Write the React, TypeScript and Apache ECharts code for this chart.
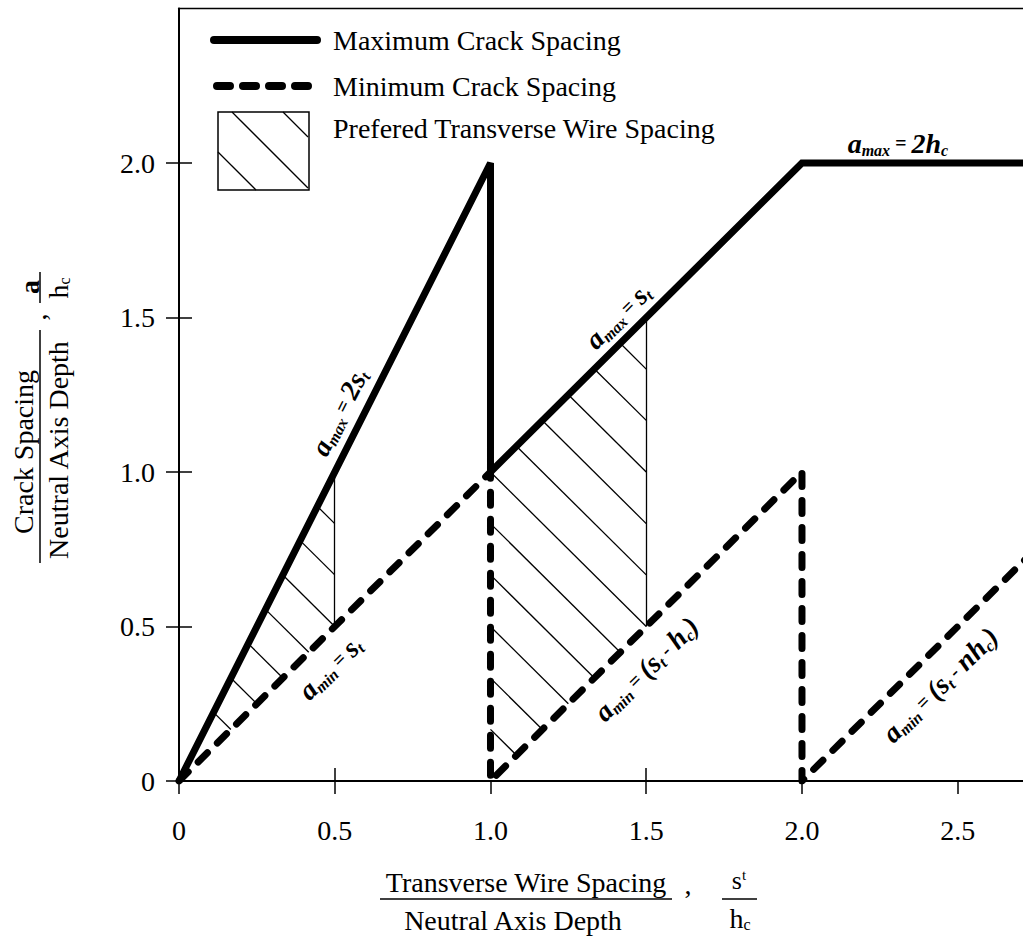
import React, { useEffect, useRef } from 'react';
import * as echarts from 'echarts';

// ---------- data ----------
const xTicks = [0, 0.5, 1.0, 1.5, 2.0, 2.5];
const yTicks = [0, 0.5, 1.0, 1.5, 2.0];
const xInsideTicks = [0.5, 1.5];
const yInsideTicks = [0.5, 1.0, 1.5, 2.0];

const maxCrackSpacing = [[0, 0], [1, 2], [1, 1], [2, 2], [2.75, 2]];
const minCrackSpacing = [[0, 0], [1, 1], [1, 0], [2, 1], [2, 0], [2.75, 0.75]];

// preferred transverse wire spacing zones (polygons, data units)
const zoneA = [[0, 0], [0.5, 0.5], [0.5, 1.0]];
const zoneB = [[1, 0], [1.5, 0.5], [1.5, 1.5], [1, 1]];
// hatch lines x + y = c
const hatchA = [0.333, 0.5, 0.667, 0.833, 1.0, 1.167, 1.333];
const hatchB = [1.167, 1.333, 1.5, 1.667, 1.833, 2.0, 2.167, 2.333, 2.5, 2.667, 2.833];
const zoneEdges = [[[0.5, 0.5], [0.5, 1.0]], [[1.5, 0.5], [1.5, 1.5]]];

const legendNames = ['Maximum Crack Spacing', 'Minimum Crack Spacing', 'Prefered Transverse Wire Spacing'];

const F = 'Liberation Serif';

function clipHatch(poly: number[][], c: number) {
  const pts: number[][] = [];
  for (let i = 0; i < poly.length; i++) {
    const p = poly[i];
    const q = poly[(i + 1) % poly.length];
    const fp = p[0] + p[1] - c;
    const fq = q[0] + q[1] - c;
    if (Math.abs(fp - fq) < 1e-12) continue;
    if ((fp <= 1e-9 && fq >= -1e-9) || (fp >= -1e-9 && fq <= 1e-9)) {
      const t = fp / (fp - fq);
      pts.push([p[0] + t * (q[0] - p[0]), p[1] + t * (q[1] - p[1])]);
    }
  }
  if (pts.length < 2) return null;
  pts.sort((a, b) => a[0] - b[0]);
  const a = pts[0];
  const b = pts[pts.length - 1];
  if (Math.hypot(a[0] - b[0], a[1] - b[1]) < 1e-6) return null;
  return [a, b];
}

const fmt = (v: number) => (v === 0 ? '0' : v.toFixed(1));

const annRich = {
  a: { fontSize: 28, fontFamily: F, fontStyle: 'italic', fontWeight: 'bold', lineHeight: 30, fill: '#000' },
  s: { fontSize: 16, fontFamily: F, fontStyle: 'italic', fontWeight: 'bold', verticalAlign: 'bottom', lineHeight: 18, fill: '#000' },
  e: { fontSize: 20, fontFamily: F, fontStyle: 'italic', fontWeight: 'bold', lineHeight: 30, fill: '#000' },
};

// annotations: text, anchor on line (data), line direction (data), normal offset px (+ = above)
const annotations = [
  { text: '{a|a}{s|max}{e| = }{a|2s}{s|t}', at: [0.58, 1.16], dir: [1, 2], off: 23 },
  { text: '{a|a}{s|min}{e| = }{a|s}{s|t}', at: [0.426, 0.426], dir: [1, 1], off: -26 },
  { text: '{a|a}{s|max}{e| = }{a|s}{s|t}', at: [1.456, 1.456], dir: [1, 1], off: 21 },
  { text: '{a|a}{s|min}{e| = }{a|(s}{s|t}{e| - }{a|h}{s|c}{a|)}', at: [1.432, 0.432], dir: [1, 1], off: -30 },
  { text: '{a|a}{s|max}{e| = }{a|2h}{s|c}', at: [2.308, 2.0], dir: [1, 0], off: 20 },
  { text: '{a|a}{s|min}{e| = }{a|(s}{s|t}{e| - }{a|nh}{s|c}{a|)}', at: [2.378, 0.378], dir: [1, 1], off: -29 },
];

export default function App() {
  const ref = useRef<HTMLDivElement>(null);

  useEffect(() => {
    const chart = echarts.init(ref.current!, null, { renderer: 'svg' });

    const hatchData: any[] = [];
    [[zoneA, hatchA], [zoneB, hatchB]].forEach(([poly, levels]: any) => {
      levels.forEach((c: number) => {
        const seg = clipHatch(poly, c);
        if (seg) hatchData.push({ coords: seg });
      });
    });
    zoneEdges.forEach((e) => hatchData.push({ coords: e }));

    const tickStyle = { color: '#000', width: 1.5 };
    const labelStyle = { fontSize: 28, fontFamily: F, color: '#000' };

    const option: any = {
      animation: false,
      grid: {
        left: 179, top: 8.5, width: 856.6, height: 772.5,
        show: true, borderColor: '#000', borderWidth: 1.5, backgroundColor: 'transparent',
      },
      xAxis: [
        {
          type: 'value', min: 0, max: 2.75, interval: 0.5, position: 'bottom',
          axisLine: { show: true, onZero: false, lineStyle: { color: '#000', width: 2 } },
          axisTick: { show: true, inside: false, length: 13, customValues: xTicks, lineStyle: tickStyle },
          axisLabel: { ...labelStyle, customValues: xTicks, formatter: fmt, margin: 35 },
          splitLine: { show: false },
        },
        {
          type: 'value', min: 0, max: 2.75, interval: 0.5, position: 'bottom', offset: 0,
          axisLine: { show: false, onZero: false },
          axisTick: { show: true, inside: true, length: 13, customValues: xInsideTicks, lineStyle: tickStyle },
          axisLabel: { show: false },
          splitLine: { show: false },
        },
      ],
      yAxis: [
        {
          type: 'value', min: 0, max: 2.5, interval: 0.5, position: 'left',
          axisLine: { show: true, onZero: false, lineStyle: { color: '#000', width: 2 } },
          axisTick: { show: true, inside: false, length: 13, customValues: yTicks, lineStyle: tickStyle },
          axisLabel: { ...labelStyle, customValues: yTicks, formatter: fmt, margin: 24 },
          splitLine: { show: false },
        },
        {
          type: 'value', min: 0, max: 2.5, interval: 0.5, position: 'left', offset: 0,
          axisLine: { show: false, onZero: false },
          axisTick: { show: true, inside: true, length: 13, customValues: yInsideTicks, lineStyle: tickStyle },
          axisLabel: { show: false },
          splitLine: { show: false },
        },
      ],
      series: [
        {
          name: legendNames[2], type: 'lines', coordinateSystem: 'cartesian2d',
          xAxisIndex: 0, yAxisIndex: 0, z: 1, silent: true,
          lineStyle: { color: '#000', width: 1.3, opacity: 1 },
          data: hatchData,
        },
        {
          name: legendNames[1], type: 'line', xAxisIndex: 0, yAxisIndex: 0, z: 3,
          showSymbol: false, symbol: 'none', silent: true,
          lineStyle: { color: '#000', width: 7, type: [13, 14], cap: 'round', join: 'round' },
          data: minCrackSpacing,
        },
        {
          name: legendNames[0], type: 'line', xAxisIndex: 0, yAxisIndex: 0, z: 4,
          showSymbol: false, symbol: 'none', silent: true,
          lineStyle: { color: '#000', width: 7, cap: 'butt', join: 'miter' },
          data: maxCrackSpacing,
        },
      ],
    };
    chart.setOption(option);

    const toPx = (p: number[]) => chart.convertToPixel({ gridIndex: 0 }, p) as number[];

    const annGraphics = annotations.map((a) => {
      const p0 = toPx(a.at);
      const p1 = toPx([a.at[0] + a.dir[0], a.at[1] + a.dir[1]]);
      let dx = p1[0] - p0[0];
      let dy = p1[1] - p0[1];
      const L = Math.hypot(dx, dy);
      dx /= L; dy /= L;
      const x = p0[0] + dy * a.off;
      const y = p0[1] - dx * a.off;
      return {
        type: 'text', x, y, rotation: Math.atan2(-dy, dx), z: 10,
        style: { text: a.text, rich: annRich, align: 'center', verticalAlign: 'middle', fill: '#000' },
      };
    });

    const t28 = { fontSize: 28, fontFamily: F, fill: '#000' };
    const legendHatch = [
      [[232, 112], [308, 188]],
      [[218, 152], [256, 190]],
      [[283, 112], [308, 137]],
    ];
    const hcRich = {
      m: { fontSize: 28, fontFamily: F, lineHeight: 28, fill: '#000' },
      d: { fontSize: 16, fontFamily: F, verticalAlign: 'bottom', lineHeight: 18, fill: '#000' },
    };

    const graphics: any[] = [
      // legend
      { type: 'line', shape: { x1: 214, y1: 40, x2: 317, y2: 40 }, style: { stroke: '#000', lineWidth: 8, lineCap: 'round' } },
      { type: 'line', shape: { x1: 217, y1: 86, x2: 317, y2: 86 }, style: { stroke: '#000', lineWidth: 8, lineCap: 'round', lineDash: [13, 13] } },
      { type: 'rect', shape: { x: 218, y: 112, width: 91, height: 78 }, style: { stroke: '#000', fill: '#fff', lineWidth: 1.5 } },
      ...legendHatch.map((s) => ({ type: 'line', shape: { x1: s[0][0], y1: s[0][1], x2: s[1][0], y2: s[1][1] }, style: { stroke: '#000', lineWidth: 1.3 } })),
      { type: 'text', x: 333, y: 40, style: { ...t28, text: legendNames[0], verticalAlign: 'middle' } },
      { type: 'text', x: 333, y: 86, style: { ...t28, text: legendNames[1], verticalAlign: 'middle' } },
      { type: 'text', x: 333, y: 128, style: { ...t28, text: legendNames[2], verticalAlign: 'middle' } },

      // x title
      { type: 'text', x: 526, y: 882, style: { ...t28, text: 'Transverse Wire Spacing', align: 'center', verticalAlign: 'middle' } },
      { type: 'line', shape: { x1: 380, y1: 899, x2: 672, y2: 899 }, style: { stroke: '#000', lineWidth: 1.5 } },
      { type: 'text', x: 513, y: 920, style: { ...t28, text: 'Neutral Axis Depth', align: 'center', verticalAlign: 'middle' } },
      { type: 'text', x: 688, y: 884, style: { ...t28, text: ',', align: 'center', verticalAlign: 'middle' } },
      {
        type: 'text', x: 739, y: 880,
        style: {
          text: '{m|s}{u|t}', align: 'center', verticalAlign: 'middle',
          rich: {
            m: { fontSize: 26, fontFamily: F, lineHeight: 26, fill: '#000' },
            u: { fontSize: 15, fontFamily: F, verticalAlign: 'top', lineHeight: 15, fill: '#000' },
          },
        },
      },
      { type: 'line', shape: { x1: 722, y1: 899, x2: 757, y2: 899 }, style: { stroke: '#000', lineWidth: 1.5 } },
      { type: 'text', x: 740, y: 918, style: { text: '{m|h}{d|c}', align: 'center', verticalAlign: 'middle', rich: hcRich } },

      // y title (rotated)
      { type: 'text', x: 23, y: 452, rotation: Math.PI / 2, style: { ...t28, text: 'Crack Spacing', align: 'center', verticalAlign: 'middle' } },
      { type: 'line', shape: { x1: 40, y1: 330, x2: 40, y2: 563 }, style: { stroke: '#000', lineWidth: 1.5 } },
      { type: 'text', x: 58, y: 450, rotation: Math.PI / 2, style: { ...t28, text: 'Neutral Axis Depth', align: 'center', verticalAlign: 'middle' } },
      { type: 'text', x: 36, y: 317, rotation: Math.PI / 2, style: { ...t28, text: ',', align: 'center', verticalAlign: 'middle' } },
      { type: 'text', x: 29, y: 287, rotation: Math.PI / 2, style: { ...t28, text: 'a', fontWeight: 'bold', align: 'center', verticalAlign: 'middle' } },
      { type: 'line', shape: { x1: 40, y1: 272, x2: 40, y2: 303 }, style: { stroke: '#000', lineWidth: 1.5 } },
      { type: 'text', x: 58, y: 288, rotation: Math.PI / 2, style: { text: '{m|h}{d|c}', align: 'center', verticalAlign: 'middle', rich: hcRich } },
      ...annGraphics,
    ];

    chart.setOption({ graphic: graphics });

    return () => chart.dispose();
  }, []);

  return (
    <div style={{ position: 'absolute', left: 0, top: 0, width: 1023, height: 937, overflow: 'hidden', background: '#fff' }}>
      <div ref={ref} style={{ width: 1045, height: 937 }} />
    </div>
  );
}
